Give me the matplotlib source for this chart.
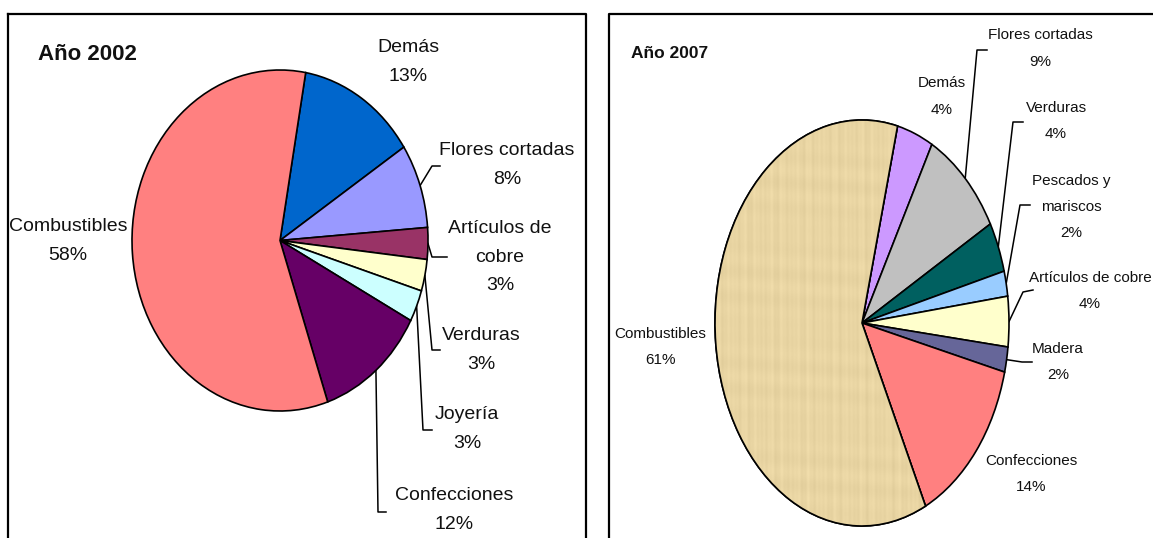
import numpy as np
import matplotlib
matplotlib.use("Agg")
import matplotlib.pyplot as plt

# ---------------- data ----------------
title_2002 = "Año 2002"
labels_2002 = ["Demás", "Flores cortadas", "Artículos de\ncobre", "Verduras",
               "Joyería", "Confecciones", "Combustibles"]
values_2002 = [13, 8, 3, 3, 3, 12, 58]
colors_2002 = ["#0066CC", "#9999FF", "#993366", "#FFFFCC", "#CCFFFF",
               "#660066", "#FF8080"]

title_2007 = "Año 2007"
labels_2007 = ["Demás", "Flores cortadas", "Verduras", "Pescados y\nmariscos",
               "Artículos de cobre", "Madera", "Confecciones", "Combustibles"]
values_2007 = [4, 9, 4, 2, 4, 2, 14, 61]
colors_2007 = ["#CC99FF", "#C0C0C0", "#006060", "#99CCFF", "#FFFFCC",
               "#666699", "#FF8080", "#E8D4A2"]

FONT = "Liberation Sans"

W, H = 1153, 538
fig = plt.figure(figsize=(W / 100, H / 100), dpi=100)
fig.patch.set_facecolor("white")

ov = fig.add_axes([0, 0, 1, 1], zorder=0)
ov.set_xlim(0, W)
ov.set_ylim(H, 0)
ov.axis("off")

# panel borders
ov.plot([7.5, 585.5, 585.5], [13.5, 13.5, H + 5], color="black", lw=1.6, clip_on=False)
ov.plot([7.5, 7.5], [13.5, H + 5], color="black", lw=1.6, clip_on=False)
ov.plot([609, 609, W + 5], [H + 5, 13.5, 13.5], color="black", lw=1.6, clip_on=False)


def make_pie(cx, cy, rx, ry, values, colors, start):
    ax = fig.add_axes([(cx - rx) / W, 1 - (cy + ry) / H, 2 * rx / W, 2 * ry / H], zorder=2)
    wedges, _ = ax.pie(values, colors=colors, startangle=start, counterclock=False,
                       radius=1, wedgeprops=dict(edgecolor="black", linewidth=1.2))
    for w in wedges:
        w.set_clip_on(False)
    ax.set_xlim(-1, 1)
    ax.set_ylim(-1, 1)
    ax.set_aspect("auto")
    ax.axis("off")
    return ax, wedges


def edge_point(w, cx, cy, rx, ry):
    m = np.deg2rad((w.theta1 + w.theta2) / 2)
    return cx + rx * np.cos(m), cy - ry * np.sin(m)


# ---------------- 2002 ----------------
cx1, cy1, rx1, ry1 = 280, 240.5, 148, 170.5
ax1, w1 = make_pie(cx1, cy1, rx1, ry1, values_2002, colors_2002, 80)

ov.text(38, 55, title_2002, fontsize=16, fontweight="bold", family=FONT,
        ha="left", va="center", color="#111111")

lab_pos_1 = [(408, 62), (507, 165), (500, 257), (481, 350), (467, 429),
             (454, 510), (68, 241)]
leaders_1 = {1: [(432, 166), (440, 166)],
             2: [(432, 257), (447, 257)],
             3: [(432, 350), (440, 350)],
             4: [(423, 430), (432, 430)],
             5: [(378, 512), (386, 512)]}
for i, (lab, v) in enumerate(zip(labels_2002, values_2002)):
    x, y = lab_pos_1[i]
    ov.text(x, y, f"{lab}\n{v}%", fontsize=14, family=FONT, ha="center",
            va="center", linespacing=1.85, color="#111111")
    if i in leaders_1:
        p0 = edge_point(w1[i], cx1, cy1, rx1, ry1)
        pts = [p0] + leaders_1[i]
        ov.plot([p[0] for p in pts], [p[1] for p in pts], color="black", lw=1.1)

# ---------------- 2007 ----------------
cx2, cy2, rx2, ry2 = 862, 323, 147, 203
ax2, w2 = make_pie(cx2, cy2, rx2, ry2, values_2007, colors_2007, 76)

# subtle papyrus-like texture on the Combustibles slice (deterministic streaks)
gx = np.linspace(0, 1, 300)
gy = np.linspace(0, 1, 400)
XX, YY = np.meshgrid(gx, gy)
streak = (0.5 * np.sin(XX * 173.0) * np.sin(XX * 31.0 + 1.3)
          + 0.3 * np.sin(YY * 97.0 + XX * 5.0) * np.sin(YY * 13.0)
          + 0.25 * np.sin(XX * 421.0 + YY * 3.0))
base = np.array([233, 213, 163]) / 255.0
tex = np.clip(base[None, None, :] + 0.035 * streak[..., None], 0, 1)
im = ax2.imshow(tex, extent=(-1, 1, -1, 1), origin="lower", aspect="auto",
                zorder=w2[-1].get_zorder() + 0.1, interpolation="bilinear")
im.set_clip_path(w2[-1])
ax2.set_xlim(-1, 1)
ax2.set_ylim(-1, 1)
# redraw the outline of that slice above the texture
outline = plt.matplotlib.patches.Wedge((0, 0), 1, w2[-1].theta1, w2[-1].theta2,
                                       facecolor="none", edgecolor="black",
                                       linewidth=1.2, zorder=im.get_zorder() + 0.1,
                                       clip_on=False)
ax2.add_patch(outline)

ov.text(631, 53, title_2007, fontsize=12.5, fontweight="bold", family=FONT,
        ha="left", va="center", color="#111111")

lab_pos_2 = [(942, 96.5), (1040, 48.5), (1056, 121), (1071, 207), (1090, 291),
             (1058, 362), (1031, 474), (660, 347)]
leaders_2 = {1: [(977, 50), (987, 50)],
             2: [(1013, 122), (1023, 122)],
             3: [(1020, 205), (1030, 205)],
             4: [(1023, 292), (1033, 290)],
             5: [(1022, 362), (1032, 362)]}
for i, (lab, v) in enumerate(zip(labels_2007, values_2007)):
    x, y = lab_pos_2[i]
    ov.text(x, y, f"{lab}\n{v}%", fontsize=11, family=FONT, ha="center",
            va="center", linespacing=2.1, color="#111111")
    if i in leaders_2:
        p0 = edge_point(w2[i], cx2, cy2, rx2, ry2)
        pts = [p0] + leaders_2[i]
        ov.plot([p[0] for p in pts], [p[1] for p in pts], color="black", lw=1.1)

fig.savefig("out.png", dpi=100, facecolor="white")
